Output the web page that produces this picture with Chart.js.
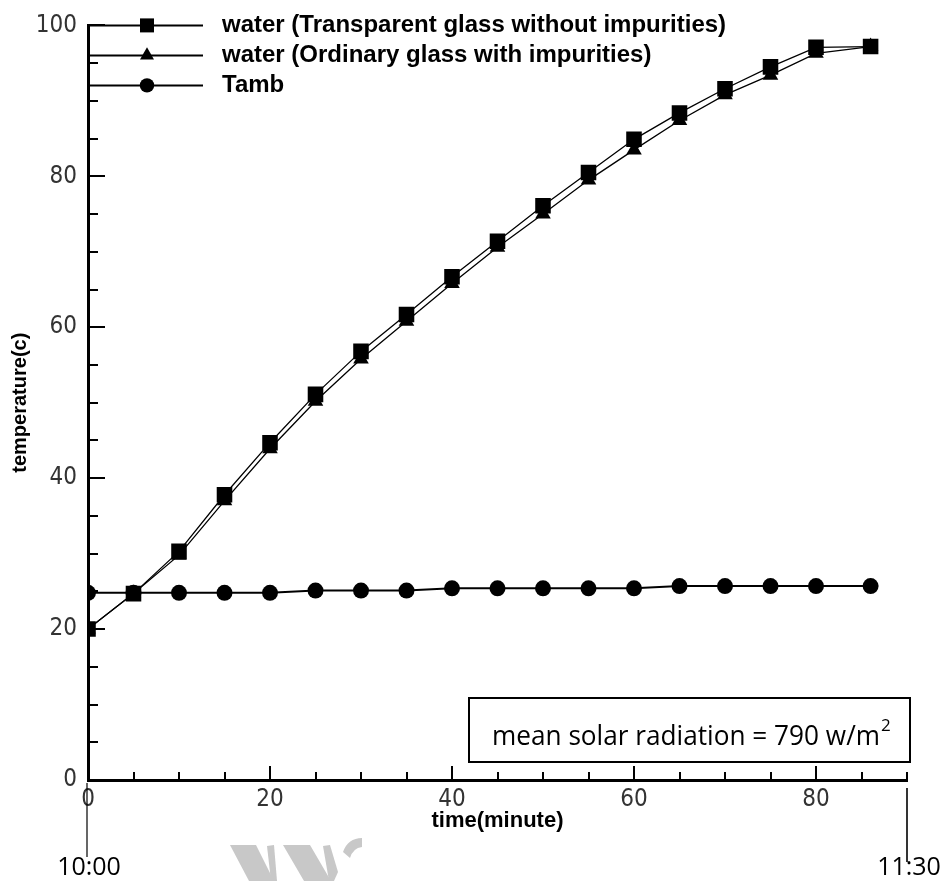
<!DOCTYPE html>
<html>
<head>
<meta charset="utf-8">
<script src="https://cdn.jsdelivr.net/npm/chart.js@4.4.1/dist/chart.umd.min.js"></script>
<style>
  html, body { margin: 0; padding: 0; background: #fff; }
  #wrap { width: 946px; height: 881px; }
</style>
</head>
<body>
<div id="wrap"><canvas id="myChart" width="946" height="881"></canvas></div>
<script>
(function () {
    "use strict";

    // data
    var times = [0, 5, 10, 15, 20, 25, 30, 35, 40, 45, 50, 55, 60, 65, 70, 75, 80, 86];
    var waterClear = [20, 24.7, 30.3, 37.8, 44.7, 51.1, 56.8, 61.7, 66.7, 71.4, 76.1, 80.5, 84.9, 88.4, 91.6, 94.5, 97.1, 97.2];
    var waterOrdinary = [20, 24.7, 29.8, 37.0, 43.9, 50.2, 55.8, 60.8, 65.8, 70.6, 75.0, 79.5, 83.5, 87.4, 90.8, 93.4, 96.3, 97.2];
    var tAmb = [24.8, 24.8, 24.8, 24.8, 24.8, 25.1, 25.1, 25.1, 25.4, 25.4, 25.4, 25.4, 25.4, 25.7, 25.7, 25.7, 25.7, 25.7];

    var seriesNames = [
        'water (Transparent glass without impurities)',
        'water (Ordinary glass with impurities)',
        'Tamb'
    ];
    var xTicks = [0, 20, 40, 60, 80];
    var yTicks = [0, 20, 40, 60, 80, 100];
    var clockLabels = ['10:00', '11:30'];
    var note = 'mean solar radiation = 790 w/m';
    var noteSup = '2';

    var tickFont = { family: "'Liberation Sans Narrow', 'DejaVu Sans Condensed', sans-serif", size: 24 };

    function points(ys) {
        return times.map(function (t, i) { return { x: t, y: ys[i] }; });
    }

    function drawMarker(ctx, style, r, x, y) {
        ctx.fillStyle = '#000';
        if (Chart.helpers && Chart.helpers.drawPoint) {
            Chart.helpers.drawPoint(ctx, { pointStyle: style, radius: r, rotation: 0, borderWidth: 0 }, x, y);
            return;
        }
        ctx.beginPath();
        ctx.arc(x, y, r, 0, Math.PI * 2);
        ctx.fill();
    }

    var decor = {
        id: 'decor',
        beforeDatasetsDraw: function (chart) {
            var ctx = chart.ctx, xs = chart.scales.x, ys = chart.scales.y, a = chart.chartArea;
            var v, p, len;
            ctx.save();
            ctx.strokeStyle = '#000';
            ctx.lineWidth = 2;
            ctx.beginPath();
            for (v = 0; v <= 90; v += 5) {
                p = Math.round(xs.getPixelForValue(v));
                len = v % 20 === 0 ? 14 : 8;
                ctx.moveTo(p, a.bottom);
                ctx.lineTo(p, a.bottom - len);
            }
            for (v = 0; v <= 100; v += 5) {
                p = Math.round(ys.getPixelForValue(v));
                len = v % 20 === 0 ? 17 : 10;
                ctx.moveTo(a.left, p);
                ctx.lineTo(a.left + len, p);
            }
            ctx.stroke();
            ctx.restore();
        },
        afterDraw: function (chart) {
            var ctx = chart.ctx, xs = chart.scales.x, a = chart.chartArea;
            ctx.save();

            // legend, drawn the tecplot way: line from the axis with marker in the middle
            chart.data.datasets.forEach(function (ds, i) {
                var y = a.top + i * 30;
                ctx.strokeStyle = '#000';
                ctx.lineWidth = 2;
                ctx.beginPath();
                ctx.moveTo(a.left, y);
                ctx.lineTo(a.left + 115, y);
                ctx.stroke();
                drawMarker(ctx, ds.pointStyle, ds.pointRadius * 0.9, a.left + 59, y);
                ctx.fillStyle = '#000';
                ctx.font = "bold 24px 'Liberation Sans', Arial, sans-serif";
                ctx.textAlign = 'left';
                ctx.textBaseline = 'middle';
                ctx.fillText(ds.label, a.left + 134, y);
            });

            // clock markers under the time axis
            var x0 = xs.getPixelForValue(0), x1 = xs.getPixelForValue(90);
            ctx.strokeStyle = '#000';
            ctx.lineWidth = 1.2;
            ctx.beginPath();
            ctx.moveTo(x0 - 1, a.bottom + 3);
            ctx.lineTo(x0 - 1, a.bottom + 77);
            ctx.stroke();
            ctx.lineWidth = 1.6;
            ctx.beginPath();
            ctx.moveTo(x1, a.bottom + 8);
            ctx.lineTo(x1, a.bottom + 82);
            ctx.stroke();
            ctx.fillStyle = '#000';
            ctx.font = "25px 'Open Sans', sans-serif";
            ctx.textAlign = 'center';
            ctx.textBaseline = 'alphabetic';
            ctx.fillText(clockLabels[0], x0 + 1, a.bottom + 95);
            ctx.fillText(clockLabels[1], x1 + 2, a.bottom + 95);

            // note box
            ctx.lineWidth = 2;
            ctx.strokeRect(469, 698, 441, 64);
            ctx.font = "27px 'Open Sans', sans-serif";
            var w = ctx.measureText(note).width;
            var target = 388;
            ctx.save();
            ctx.translate(492, 745);
            ctx.scale(target / w, 1);
            ctx.textAlign = 'left';
            ctx.fillText(note, 0, 0);
            ctx.restore();
            ctx.font = "17px 'Open Sans', sans-serif";
            ctx.textAlign = 'left';
            ctx.fillText(noteSup, 492 + target + 1, 731);

            // faint watermark fragment
            ctx.fillStyle = '#c8c8c8';
            [
                [[230, 845], [256, 845], [274, 881], [249, 881]],
                [[267, 846], [274, 845], [277, 881], [271, 881]],
                [[283, 845], [310, 845], [331, 881], [304, 881]],
                [[323, 846], [330, 845], [338, 872], [334, 881], [329, 881]]
            ].forEach(function (poly) {
                ctx.beginPath();
                ctx.moveTo(poly[0][0], poly[0][1]);
                for (var k = 1; k < poly.length; k++) ctx.lineTo(poly[k][0], poly[k][1]);
                ctx.closePath();
                ctx.fill();
            });
            ctx.beginPath();
            ctx.moveTo(343, 852);
            ctx.quadraticCurveTo(348, 838, 362, 838);
            ctx.lineTo(362, 847);
            ctx.quadraticCurveTo(353, 848, 350, 858);
            ctx.closePath();
            ctx.fill();

            ctx.restore();
        }
    };

    var ctx = document.getElementById('myChart').getContext('2d');
    var myChart = new Chart(ctx, {
        type: 'line',
        data: {
            datasets: [{
                label: seriesNames[0],
                data: points(waterClear),
                borderColor: '#000',
                borderWidth: 1.3,
                pointStyle: 'rect',
                pointRadius: 11,
                pointBackgroundColor: '#000',
                pointBorderWidth: 0
            }, {
                label: seriesNames[1],
                data: points(waterOrdinary),
                borderColor: '#000',
                borderWidth: 1.3,
                pointStyle: 'triangle',
                pointRadius: 9,
                pointBackgroundColor: '#000',
                pointBorderWidth: 0
            }, {
                label: seriesNames[2],
                data: points(tAmb),
                borderColor: '#000',
                borderWidth: 2,
                pointStyle: 'circle',
                pointRadius: 8,
                pointBackgroundColor: '#000',
                pointBorderWidth: 0
            }]
        },
        options: {
            responsive: false,
            animation: false,
            events: [],
            layout: { padding: { top: 20, right: 39, left: 0, bottom: 0 } },
            plugins: { legend: { display: false }, tooltip: { enabled: false } },
            scales: {
                x: {
                    type: 'linear',
                    min: 0,
                    max: 90,
                    grid: { display: false, drawTicks: false },
                    border: { display: true, color: '#000', width: 3 },
                    afterBuildTicks: function (s) { s.ticks = xTicks.map(function (v) { return { value: v }; }); },
                    afterFit: function (s) { s.height = 101; },
                    ticks: { font: tickFont, color: '#333', padding: 5, maxRotation: 0 },
                    title: {
                        display: true,
                        text: 'time(minute)',
                        color: '#000',
                        font: { family: "'Liberation Sans', Arial, sans-serif", size: 22, weight: 'bold' },
                        padding: { top: 0, bottom: 47 }
                    }
                },
                y: {
                    min: 0,
                    max: 100,
                    grid: { display: false, drawTicks: false },
                    border: { display: true, color: '#000', width: 3 },
                    afterBuildTicks: function (s) { s.ticks = yTicks.map(function (v) { return { value: v }; }); },
                    afterFit: function (s) { s.width = 88; },
                    ticks: { font: tickFont, color: '#333', padding: 11 },
                    title: {
                        display: true,
                        text: 'temperature(c)',
                        color: '#000',
                        font: { family: "'Liberation Sans', Arial, sans-serif", size: 20, weight: 'bold' },
                        padding: { top: 8, bottom: 0 }
                    }
                }
            }
        },
        plugins: [decor]
    });
})();
</script>
</body>
</html>
